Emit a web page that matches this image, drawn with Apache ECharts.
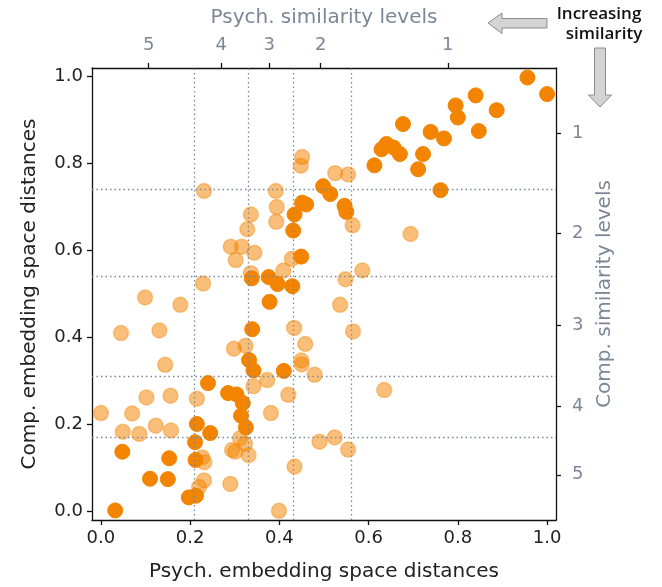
<!DOCTYPE html>
<html>
<head>
<meta charset="utf-8">
<script src="https://cdn.jsdelivr.net/npm/echarts@6/dist/echarts.min.js"></script>
<style>
  html, body { margin: 0; padding: 0; background: #fff; }
  #chart { width: 662px; height: 587px; }
</style>
</head>
<body>
<div id="chart"></div>
<script>
// Pairs of distances: psychological embedding (x) vs computational embedding (y)
const darkX = [0.956, 1.000, 0.840, 0.795, 0.887, 0.800, 0.677, 0.739, 0.847, 0.769,
  0.640, 0.629, 0.656, 0.670, 0.722, 0.613, 0.711, 0.498, 0.514, 0.761,
  0.451, 0.460, 0.546, 0.550, 0.434, 0.431, 0.449, 0.338, 0.376, 0.396,
  0.429, 0.378, 0.339, 0.332, 0.342, 0.410, 0.240, 0.285, 0.304, 0.318,
  0.314, 0.325, 0.215, 0.245, 0.211, 0.048, 0.153, 0.212, 0.110, 0.150,
  0.197, 0.213, 0.032];
const darkY = [0.998, 0.960, 0.957, 0.934, 0.923, 0.906, 0.891, 0.873, 0.875, 0.858,
  0.845, 0.833, 0.837, 0.822, 0.822, 0.796, 0.787, 0.748, 0.730, 0.739,
  0.710, 0.706, 0.703, 0.689, 0.683, 0.646, 0.586, 0.536, 0.539, 0.523,
  0.518, 0.482, 0.419, 0.348, 0.324, 0.323, 0.295, 0.272, 0.269, 0.249,
  0.220, 0.193, 0.201, 0.180, 0.159, 0.137, 0.122, 0.118, 0.075, 0.074,
  0.032, 0.036, 0.002];

const lightX = [0.451, 0.448, 0.231, 0.392, 0.525, 0.554, 0.394, 0.336, 0.393, 0.328,
  0.564, 0.694, 0.291, 0.316, 0.344, 0.302, 0.428, 0.409, 0.336, 0.229,
  0.586, 0.548, 0.099, 0.178, 0.536, 0.045, 0.131, 0.433, 0.565, 0.458,
  0.298, 0.324, 0.144, 0.449, 0.450, 0.479, 0.342, 0.373, 0.420, 0.635,
  0.102, 0.156, 0.215, 0.000, 0.070, 0.381, 0.123, 0.157, 0.049, 0.086,
  0.312, 0.323, 0.294, 0.301, 0.331, 0.490, 0.524, 0.554, 0.227, 0.232,
  0.434, 0.231, 0.220, 0.290, 0.399];
const lightY = [0.815, 0.795, 0.737, 0.737, 0.778, 0.775, 0.700, 0.683, 0.666, 0.649,
  0.658, 0.638, 0.609, 0.609, 0.595, 0.578, 0.581, 0.554, 0.548, 0.524,
  0.554, 0.534, 0.492, 0.475, 0.475, 0.410, 0.416, 0.422, 0.414, 0.385,
  0.374, 0.381, 0.337, 0.347, 0.338, 0.314, 0.288, 0.302, 0.268, 0.279,
  0.262, 0.266, 0.259, 0.226, 0.225, 0.226, 0.197, 0.186, 0.183, 0.178,
  0.168, 0.155, 0.141, 0.137, 0.129, 0.160, 0.170, 0.142, 0.124, 0.113,
  0.103, 0.071, 0.056, 0.063, 0.001];

// Distance ticks on the main axes
const distTicks = [0.0, 0.2, 0.4, 0.6, 0.8, 1.0];

// Boundaries between similarity levels (distance units)
const psychThresholds = [0.214, 0.325, 0.430, 0.555];
const compThresholds = [0.168, 0.314, 0.540, 0.738];
// Level labels, from the lowest distance bin upwards
const psychLevels = ['5', '4', '3', '2', '1'];
const compLevels = ['5', '4', '3', '2', '1'];

// Level labels sit in the middle of each bin
function binCenters(th) {
  const edges = [0].concat(th, [1]);
  const c = [];
  for (let i = 0; i < edges.length - 1; i++) c.push((edges[i] + edges[i + 1]) / 2);
  return c;
}
const psychCenters = binCenters(psychThresholds);
const compCenters = binCenters(compThresholds);
const levelOf = (centers, labels) => v => {
  let best = 0;
  centers.forEach((c, i) => { if (Math.abs(c - v) < Math.abs(centers[best] - v)) best = i; });
  return labels[best];
};

const ORANGE = '#f38400';
const LEVEL_GREY = '#7b8797';
const FONT = 'DejaVu Sans';
const AX_MIN = -0.02, AX_MAX = 1.02;

const chart = echarts.init(document.getElementById('chart'), null, { renderer: 'canvas' });

function axis(extra) {
  const base = {
    type: 'value', min: AX_MIN, max: AX_MAX,
    splitLine: { show: false },
    axisLine: { show: true, onZero: false, lineStyle: { color: '#111', width: 1.3 } },
    axisTick: { show: true, length: 5, lineStyle: { color: '#111', width: 1.3 } },
    nameLocation: 'middle',
    nameTextStyle: { fontFamily: FONT, fontSize: 20, color: '#222' },
    axisLabel: { fontFamily: FONT, fontSize: 18, color: '#222', margin: 9 }
  };
  return echarts.util.merge(base, extra, true);
}

const option = {
  backgroundColor: '#fff',
  animation: false,
  grid: { left: 92, top: 68, width: 464, height: 452, show: false },
  xAxis: [
    axis({
      position: 'bottom',
      name: 'Psych. embedding space distances', nameGap: 42,
      axisTick: { customValues: distTicks },
      axisLabel: { customValues: distTicks, formatter: v => v.toFixed(1) }
    }),
    axis({
      position: 'top',
      name: 'Psych. similarity levels', nameGap: 40,
      nameTextStyle: { color: LEVEL_GREY },
      axisTick: { customValues: psychCenters },
      axisLabel: { customValues: psychCenters, color: LEVEL_GREY, fontSize: 18, margin: 14, formatter: levelOf(psychCenters, psychLevels) }
    })
  ],
  yAxis: [
    axis({
      position: 'left',
      name: 'Comp. embedding space distances', nameGap: 52, nameRotate: 90,
      axisTick: { customValues: distTicks },
      axisLabel: { customValues: distTicks, formatter: v => v.toFixed(1) }
    }),
    axis({
      position: 'right',
      name: 'Comp. similarity levels', nameGap: 36, nameRotate: 90,
      nameTextStyle: { color: LEVEL_GREY },
      axisTick: { customValues: compCenters },
      axisLabel: { customValues: compCenters, color: LEVEL_GREY, fontSize: 18, margin: 16, formatter: levelOf(compCenters, compLevels) }
    })
  ],
  series: [
    {
      // level boundaries as dotted guide lines
      type: 'scatter', data: [], z: 1, silent: true,
      markLine: {
        silent: true, symbol: 'none', animation: false,
        label: { show: false },
        lineStyle: { color: '#7d8796', width: 1.3, type: [1.5, 3] },
        data: psychThresholds.map(v => ({ xAxis: v })).concat(compThresholds.map(v => ({ yAxis: v })))
      }
    },
    {
      name: 'light', type: 'scatter', z: 2,
      symbolSize: 15,
      itemStyle: { color: 'rgba(243,132,0,0.52)', borderColor: 'rgba(243,132,0,0.38)', borderWidth: 1.5, opacity: 1 },
      data: lightX.map((x, i) => [x, lightY[i]])
    },
    {
      name: 'dark', type: 'scatter', z: 3,
      symbolSize: 15,
      itemStyle: { color: ORANGE, borderColor: ORANGE, borderWidth: 1, opacity: 1 },
      data: darkX.map((x, i) => [x, darkY[i]])
    }
  ],
  graphic: [
    // arrow pointing left, along the top axis
    {
      type: 'polygon', z: 10,
      shape: { points: [[488, 23], [502, 13], [502, 18.5], [547, 18.5], [547, 28], [502, 28], [502, 33.5]] },
      style: { fill: '#d4d4d4', stroke: '#8c8c8c', lineWidth: 1 }
    },
    // arrow pointing down, along the right axis
    {
      type: 'polygon', z: 10,
      shape: { points: [[594.5, 48], [605.5, 48], [605.5, 95], [611.5, 95], [600, 107], [588.5, 95], [594.5, 95]] },
      style: { fill: '#d4d4d4', stroke: '#8c8c8c', lineWidth: 1 }
    },
    {
      type: 'text', z: 10, x: 599, y: 14,
      style: { text: 'Increasing', fontFamily: 'Open Sans', fontWeight: 600, fontSize: 17, fill: '#111', align: 'center', verticalAlign: 'middle' }
    },
    {
      type: 'text', z: 10, x: 604, y: 34,
      style: { text: 'similarity', fontFamily: 'Open Sans', fontWeight: 600, fontSize: 17, fill: '#111', align: 'center', verticalAlign: 'middle' }
    }
  ]
};

chart.setOption(option);
</script>
</body>
</html>
